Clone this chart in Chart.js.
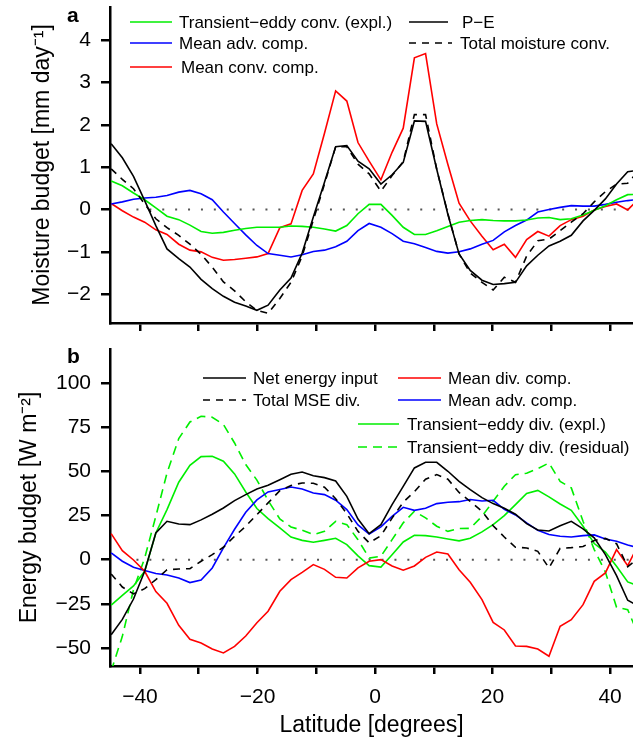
<!DOCTYPE html>
<html>
<head>
<meta charset="utf-8">
<title>Moisture and energy budgets</title>
<script src="https://cdn.jsdelivr.net/npm/chart.js@4.4.1/dist/chart.umd.min.js"></script>
<style>
  html, body { margin: 0; padding: 0; background: #fff; }
  #wrap { position: relative; width: 633px; height: 744px; overflow: hidden; }
  .panel { position: absolute; left: 0; width: 633px; }
  #top { top: 0; height: 340px; }
  #bottom { top: 340px; height: 404px; }
</style>
</head>
<body>
<div id="wrap">
  <div class="panel" id="top"><canvas id="moistureChart" width="633" height="340"></canvas></div>
  <div class="panel" id="bottom"><canvas id="energyChart" width="633" height="404"></canvas></div>
</div>
<script>
const latitudes = [-44.9, -43.0, -41.1, -39.2, -37.3, -35.4, -33.4, -31.5, -29.6, -27.7, -25.8, -23.9,
  -22.0, -20.1, -18.2, -16.2, -14.3, -12.4, -10.5, -8.6, -6.7, -4.8, -2.9, -1.0,
  1.0, 2.9, 4.8, 6.7, 8.6, 10.5, 12.4, 14.3, 16.2, 18.2, 20.1, 22.0,
  23.9, 25.8, 27.7, 29.6, 31.5, 33.4, 35.4, 37.3, 39.2, 41.1, 43.0, 44.9];

// panel a, mm/day
const pMinusE = [1.55, 1.22, 0.78, 0.21, -0.38, -0.93, -1.16, -1.36, -1.65, -1.87, -2.05, -2.19,
  -2.28, -2.38, -2.26, -1.9, -1.62, -1.03, -0.18, 0.64, 1.48, 1.51, 1.14, 0.96,
  0.6, 0.82, 1.11, 2.09, 2.08, 0.95, -0.12, -1.05, -1.44, -1.67, -1.77, -1.75,
  -1.72, -1.33, -1.08, -0.86, -0.75, -0.61, -0.27, -0.02, 0.25, 0.6, 0.89, 0.93];
const totalMoistureConv = [0.96, 0.71, 0.49, 0.13, -0.22, -0.43, -0.61, -0.82, -1.06, -1.36, -1.71, -1.92,
  -2.18, -2.38, -2.45, -2.1, -1.72, -1.1, -0.25, 0.6, 1.48, 1.48, 1.07, 0.84,
  0.43, 0.8, 1.13, 2.24, 2.24, 0.95, -0.1, -1.05, -1.5, -1.72, -1.9, -1.6,
  -1.72, -1.1, -0.74, -0.7, -0.5, -0.3, -0.1, 0.18, 0.42, 0.6, 0.62, 0.92];
const eddyConvExpl = [0.67, 0.56, 0.39, 0.23, 0.04, -0.16, -0.24, -0.37, -0.52, -0.56, -0.54, -0.49,
  -0.45, -0.42, -0.42, -0.42, -0.39, -0.4, -0.42, -0.46, -0.51, -0.38, -0.1, 0.12,
  0.12, -0.14, -0.42, -0.59, -0.59, -0.5, -0.4, -0.3, -0.26, -0.24, -0.26, -0.27,
  -0.27, -0.25, -0.2, -0.19, -0.24, -0.22, -0.13, -0.02, 0.09, 0.23, 0.35, 0.36];
const meanAdvMoist = [0.13, 0.18, 0.24, 0.27, 0.29, 0.33, 0.41, 0.45, 0.37, 0.23, -0.06, -0.33,
  -0.6, -0.85, -1.04, -1.08, -1.12, -1.07, -0.99, -0.96, -0.88, -0.75, -0.5, -0.33,
  -0.42, -0.57, -0.75, -0.81, -0.9, -0.99, -1.03, -1.0, -0.93, -0.82, -0.73, -0.53,
  -0.38, -0.25, -0.06, 0.0, 0.05, 0.09, 0.08, 0.08, 0.12, 0.17, 0.21, 0.24];
const meanConvMoist = [0.14, -0.03, -0.18, -0.3, -0.48, -0.59, -0.82, -0.96, -1.0, -1.13, -1.2, -1.18,
  -1.15, -1.12, -1.04, -0.43, -0.34, 0.45, 0.84, 1.8, 2.8, 2.56, 1.58, 1.14,
  0.7, 1.35, 1.92, 3.58, 3.68, 2.02, 1.06, 0.15, -0.27, -0.63, -0.95, -0.82,
  -1.13, -0.71, -0.52, -0.63, -0.38, -0.24, -0.16, -0.01, 0.07, 0.13, -0.01, 0.25];

// panel b, W/m2
const netEnergyInput = [-42.5, -33.8, -22.3, -6.6, 15.1, 21.7, 20.2, 19.8, 22.5, 25.7, 29.2, 33.4,
  36.8, 40, 42.1, 45.2, 48.3, 49.6, 47.5, 46.4, 44.5, 35.8, 23, 14.7,
  19.8, 31.1, 41.5, 51.9, 55.1, 55.1, 50, 44.3, 39.6, 35.1, 31.7, 29.1,
  25.7, 20.4, 16.8, 16.2, 19.2, 21.7, 17.4, 12.3, 2.8, -9.1, -23, -26.4];
const totalMseDiv = [-8.1, -15.5, -19.4, -16.4, -11.3, -5.7, -5.3, -5.1, -0.9, 2.8, 7, 13.2,
  18.9, 25.5, 32.1, 39, 42, 43.4, 43.2, 41, 34.5, 26, 16, 9.5,
  13.5, 23.5, 32.5, 38.5, 45.5, 48.1, 45.5, 38, 33, 27.4, 19.2, 12.8,
  7, 6.6, 4.7, -4.7, 6.4, 6.8, 7.4, 10.8, 12, 9, -4, 1];
const meanDivComp = [14.7, 5.1, -0.2, -6.6, -18.1, -24.7, -37.2, -45.1, -47.2, -50.6, -52.8, -49.1,
  -43.2, -35.7, -29.2, -17.9, -11.3, -7.2, -2.8, -5.5, -10, -10.4, -4.7, -0.9,
  0, -3.6, -6, -3.6, 1.3, 4.3, 3.2, -5.7, -12.8, -22.6, -35.5, -39.8,
  -48.9, -49.1, -50.6, -54.7, -37.7, -34, -25.5, -12.3, -7.5, 5.7, -3.4, 9.1];
const meanAdvEnergy = [3.8, -0.9, -4.3, -6.2, -7.9, -8.7, -10.4, -13, -11.5, -4.7, 6.6, 17.2,
  26.8, 33.8, 38.3, 39.7, 41.1, 40, 37.7, 36.8, 33.6, 28.3, 19.6, 14.5,
  18.5, 24.5, 29.6, 27.9, 29.1, 31.7, 32.5, 32.8, 34, 33.2, 33.6, 28.5,
  25.3, 20.8, 16.6, 14.2, 13.2, 12.8, 13.6, 14, 11.7, 10.4, 8.3, 6.6];
const eddyDivExpl = [-25.8, -20.2, -14.9, -6.6, 15.1, 28.3, 43.8, 53.4, 58.3, 58.5, 55.7, 48.5,
  38.3, 28.9, 23.2, 17.9, 12.8, 10.9, 9.8, 10.9, 12.1, 8.5, 2.1, -3.4,
  -4.2, 2.8, 10, 13.8, 13.6, 12.8, 11.7, 10.6, 12.1, 15.7, 19.8, 24.9,
  31.1, 37.4, 39.2, 35.5, 31.5, 27.9, 18.9, 9.1, 4.3, -3.8, -12.6, -15.1];
const eddyDivResidual = [-63, -43.4, -17, 0.9, 24.5, 49, 68.5, 77.9, 81.1, 80.6, 76.5, 66,
  53.8, 45, 33.5, 23, 18.5, 16.6, 14.2, 16, 21.7, 19.8, 11.3, 0.9,
  1.9, 11.3, 20.8, 27.4, 23.6, 18.9, 16, 17.6, 17.7, 24.5, 33, 41.5,
  48.1, 48.9, 51.5, 54.7, 44.3, 40.6, 21.7, 5.7, -7, -27, -28.3, -43.4];

const latitudeTicks = [-40, -30, -20, -10, 0, 10, 20, 30, 40];
const latitudeLabels = [-40, -20, 0, 20, 40];
const moistureTicks = [-2, -1, 0, 1, 2, 3, 4];
const energyTicks = [-50, -25, 0, 25, 50, 75, 100];
const zeroLineSpan = [-40.6, 43.5];

const FONT = '"Liberation Sans", Arial, Helvetica, sans-serif';
Chart.defaults.font.family = FONT;
Chart.defaults.color = '#000';

const GREEN = '#00ee00';
const BLUE = '#0000ff';
const RED = '#ff0000';

function fmt(v) {
  return String(v).replace('-', '\u2212');
}

function series(values) {
  return latitudes.map((lat, i) => ({ x: lat, y: values[i] }));
}

function line(label, values, color, dash) {
  return {
    label,
    data: series(values),
    borderColor: color,
    borderWidth: 1.6,
    borderDash: dash || [],
    pointRadius: 0,
    tension: 0,
    fill: false
  };
}

function zeroLine() {
  return {
    label: 'zero',
    data: zeroLineSpan.map(x => ({ x, y: 0 })),
    borderColor: '#555',
    borderWidth: 2,
    borderDash: [2, 10.9],
    pointRadius: 0
  };
}

// legend drawn at fixed spots, like the original figure
const placedLegend = {
  id: 'placedLegend',
  afterDraw(chart, args, opts) {
    const ctx = chart.ctx;
    ctx.save();
    ctx.font = '17px ' + FONT;
    ctx.textBaseline = 'middle';
    ctx.fillStyle = '#000';
    opts.items.forEach(item => {
      const ds = chart.data.datasets[item.dataset];
      ctx.beginPath();
      ctx.strokeStyle = ds.borderColor;
      ctx.lineWidth = ds.borderWidth;
      ctx.setLineDash(ds.borderDash);
      ctx.moveTo(item.x0, item.y);
      ctx.lineTo(item.x1, item.y);
      ctx.stroke();
      ctx.setLineDash([]);
      ctx.fillText(ds.label, item.tx, item.y + 1);
    });
    ctx.font = 'bold 21px ' + FONT;
    ctx.textBaseline = 'alphabetic';
    ctx.fillText(opts.letter, opts.letterX, opts.letterY);
    ctx.restore();
  }
};

function xAxis(height, showLabels, title) {
  return {
    type: 'linear',
    min: -45.1,
    max: 43.9,
    afterBuildTicks: s => { s.ticks = latitudeTicks.map(value => ({ value })); },
    afterFit: s => { s.height = height; s.paddingLeft = 0; s.paddingRight = 0; },
    border: { color: '#000', width: 2.5 },
    grid: { drawOnChartArea: false, color: '#000', lineWidth: 2.5, tickLength: 8 },
    ticks: {
      autoSkip: false,
      maxRotation: 0,
      padding: 11,
      font: { size: 21 },
      color: '#000',
      callback: v => (showLabels && latitudeLabels.includes(v)) ? fmt(v) : ''
    },
    title: title ? { display: true, text: title, font: { size: 23 }, color: '#000', padding: { top: 0, bottom: 5 } } : { display: false }
  };
}

function yAxis(min, max, ticks, title, titleOffset) {
  return {
    min,
    max,
    afterBuildTicks: s => { s.ticks = ticks.map(value => ({ value })); },
    afterFit: s => { s.width = 110; s.paddingTop = 0; s.paddingBottom = 0; },
    border: { color: '#000', width: 2.5 },
    grid: { drawOnChartArea: false, color: '#000', lineWidth: 2.5, tickLength: 9 },
    ticks: { padding: 10, font: { size: 21 }, color: '#000', callback: v => fmt(v) },
    title: { display: true, text: title, font: { size: 23 }, color: '#000', padding: { top: titleOffset, bottom: 0 } }
  };
}

const baseOptions = {
  responsive: false,
  animation: false,
  events: [],
  plugins: { legend: { display: false }, tooltip: { enabled: false } }
};

new Chart(document.getElementById('moistureChart'), {
  type: 'line',
  data: {
    datasets: [
      line('P\u2212E', pMinusE, '#000'),
      line('Total moisture conv.', totalMoistureConv, '#000', [7, 6]),
      line('Transient\u2212eddy conv. (expl.)', eddyConvExpl, GREEN),
      line('Mean adv. comp.', meanAdvMoist, BLUE),
      line('Mean conv. comp.', meanConvMoist, RED),
      zeroLine()
    ]
  },
  options: {
    ...baseOptions,
    layout: { padding: { top: 7, left: 0, right: 0, bottom: 0 } },
    scales: {
      x: xAxis(17, false, null),
      y: yAxis(-2.68, 4.78, moistureTicks, 'Moisture budget [mm day\u207B\u00B9]', 29)
    },
    plugins: {
      ...baseOptions.plugins,
      placedLegend: {
        letter: 'a', letterX: 67, letterY: 22,
        items: [
          { dataset: 2, x0: 130, x1: 172, y: 22, tx: 179 },
          { dataset: 3, x0: 130, x1: 172, y: 43, tx: 179 },
          { dataset: 4, x0: 130, x1: 172, y: 67, tx: 181 },
          { dataset: 0, x0: 409, x1: 448, y: 22, tx: 462 },
          { dataset: 1, x0: 409, x1: 452, y: 43, tx: 460 }
        ]
      }
    }
  },
  plugins: [placedLegend]
});

new Chart(document.getElementById('energyChart'), {
  type: 'line',
  data: {
    datasets: [
      line('Net energy input', netEnergyInput, '#000'),
      line('Total MSE div.', totalMseDiv, '#000', [7, 6]),
      line('Mean div. comp.', meanDivComp, RED),
      line('Mean adv. comp.', meanAdvEnergy, BLUE),
      line('Transient\u2212eddy div. (expl.)', eddyDivExpl, GREEN),
      line('Transient\u2212eddy div. (residual)', eddyDivResidual, GREEN, [9, 6]),
      zeroLine()
    ]
  },
  options: {
    ...baseOptions,
    layout: { padding: { top: 9, left: 0, right: 0, bottom: 0 } },
    scales: {
      x: xAxis(78, true, 'Latitude [degrees]'),
      y: yAxis(-60.2, 119.2, energyTicks, 'Energy budget [W m\u207B\u00B2]', 16)
    },
    plugins: {
      ...baseOptions.plugins,
      placedLegend: {
        letter: 'b', letterX: 67, letterY: 23,
        items: [
          { dataset: 0, x0: 203, x1: 246, y: 38, tx: 253 },
          { dataset: 1, x0: 203, x1: 246, y: 60, tx: 253 },
          { dataset: 2, x0: 398, x1: 441, y: 38, tx: 448 },
          { dataset: 3, x0: 398, x1: 441, y: 60, tx: 448 },
          { dataset: 4, x0: 358, x1: 399, y: 84, tx: 407 },
          { dataset: 5, x0: 358, x1: 399, y: 107, tx: 407 }
        ]
      }
    }
  },
  plugins: [placedLegend]
});
</script>
</body>
</html>
